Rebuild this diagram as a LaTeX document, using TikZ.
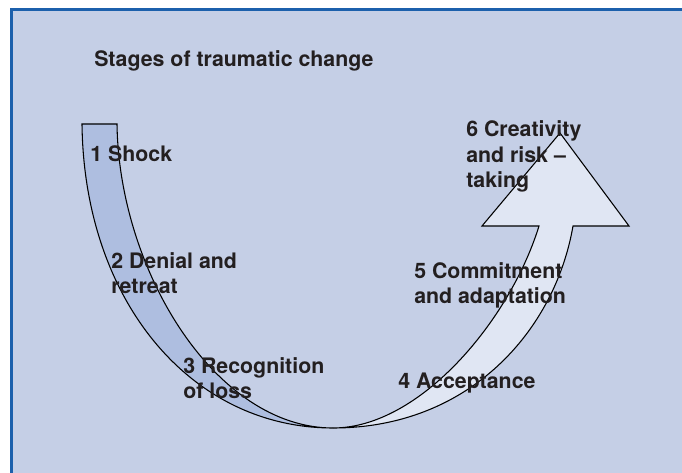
\documentclass[tikz,border=0pt]{standalone}
\usepackage{fontspec}
\setmainfont{TeX Gyre Heros}
\definecolor{panelblue}{RGB}{197,207,230}
\definecolor{frameblue}{RGB}{28,96,172}
\definecolor{bandleft}{RGB}{174,190,224}
\definecolor{bandright}{RGB}{224,230,243}
\definecolor{inkgray}{RGB}{35,31,32}
\tikzset{
  stagetext/.style={anchor=base west, inner sep=0pt, align=left, text=inkgray,
    font=\bfseries\fontsize{16}{19.2}\selectfont},
  bandline/.style={draw=black, line width=0.8pt, line join=miter}
}
\begin{document}
\begin{tikzpicture}[x=0.75pt,y=0.75pt,yscale=-1,xscale=1]
\useasboundingbox (0,0) rectangle (682,473);

%Shape: Panel
\fill [panelblue] (10,8) rectangle (682,473);
\draw [frameblue, line width=2pt] (11.5,473) -- (11.5,9.5) -- (682,9.5);

%Shape: Left band (falling)
\draw [bandline, fill=bandleft] (82,124) -- (117,124) .. controls (119,270) and (215,428) .. (333,428) .. controls (190,428) and (84,300) .. (82,124) -- cycle;
%Shape: Right band with arrow head (rising)
\draw [bandline, fill=bandright] (333,428) .. controls (420,428) and (510,320) .. (539,226) -- (482,226) -- (560,133) -- (629,226) -- (573,226) .. controls (555,330) and (470,428) .. (333,428) -- cycle;

% Text Node (base = last line)
\node [stagetext] (title) at (94,67) {Stages of traumatic change};
% Text Node
\node [stagetext] (shock) at (90,162) {1 Shock};
% Text Node
\node [stagetext] (denial) at (111,294) {2 Denial and\\retreat};
% Text Node
\node [stagetext] (recognition) at (183,399) {3 Recognition\\of loss};
% Text Node
\node [stagetext] (acceptance) at (398,389) {4 Acceptance};
% Text Node
\node [stagetext] (commitment) at (414,304) {5 Commitment\\and adaptation};
% Text Node
\node [stagetext] (creativity) at (466,188) {6 Creativity\\and risk –\\taking};

\end{tikzpicture}
\end{document}
